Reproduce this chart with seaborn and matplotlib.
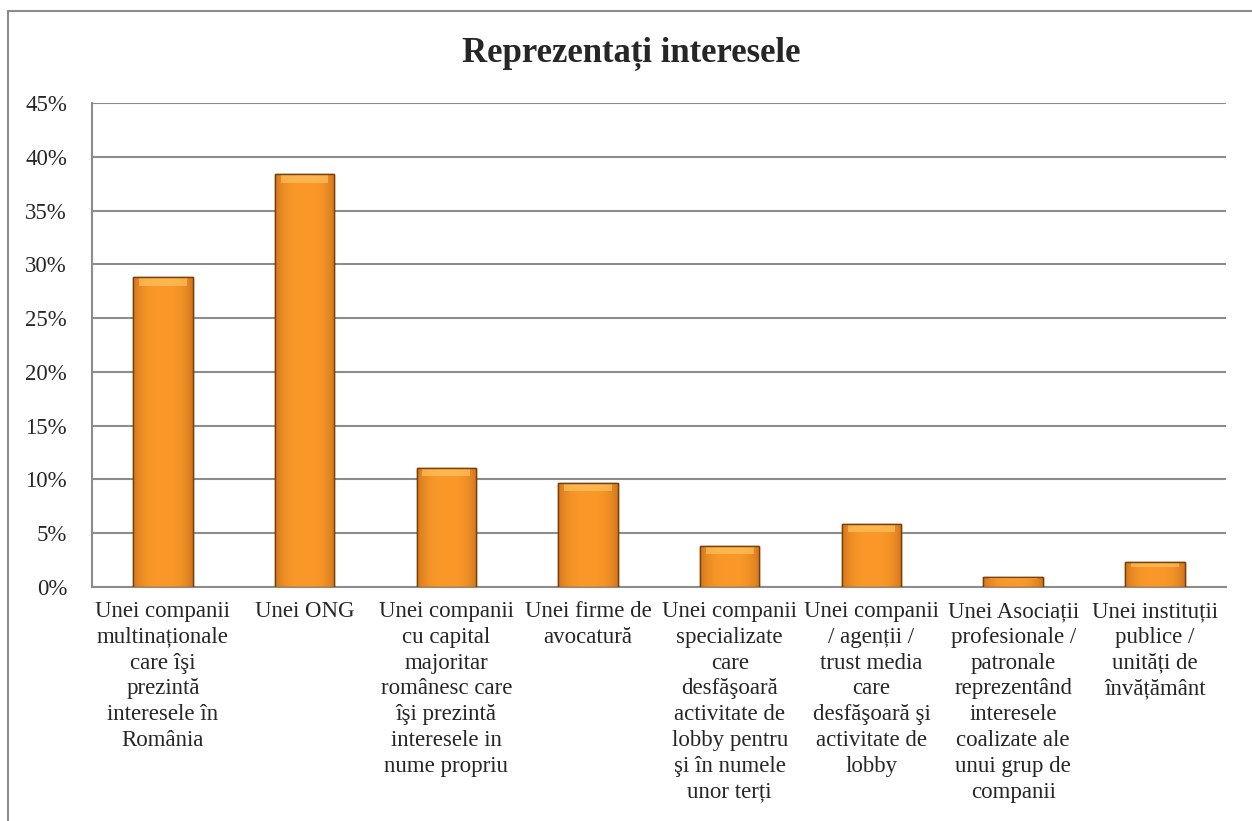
import numpy as np
import pandas as pd
import seaborn as sns
import matplotlib.pyplot as plt
from matplotlib.lines import Line2D

# date
categorii = [
    "Unei companii\nmultinaționale\ncare îşi\nprezintă\ninteresele în\nRomânia",
    "Unei ONG",
    "Unei companii\ncu capital\nmajoritar\nromânesc care\nîşi prezintă\ninteresele in\nnume propriu",
    "Unei firme de\navocatură",
    "Unei companii\nspecializate\ncare\ndesfăşoară\nactivitate de\nlobby pentru\nşi în numele\nunor terți",
    "Unei companii\n/ agenții /\ntrust media\ncare\ndesfăşoară şi\nactivitate de\nlobby",
    "Unei Asociații\nprofesionale /\npatronale\nreprezentând\ninteresele\ncoalizate ale\nunui grup de\ncompanii",
    "Unei instituții\npublice /\nunități de\nînvățământ",
]
procente = [28.8, 38.4, 11.1, 9.7, 3.8, 5.9, 0.9, 2.3]
titlu = "Reprezentați interesele"

df = pd.DataFrame({"cat": categorii, "val": procente})

sns.set_style("white")
plt.rcParams["font.family"] = ["Liberation Serif", "DejaVu Serif"]

fig = plt.figure(figsize=(12.52, 8.21), dpi=100)
ax = fig.add_axes([0.0735, 0.285, 0.9055, 0.5895])

sns.barplot(data=df, x="cat", y="val", color="#F7931E", width=0.42,
            edgecolor="#7A3E0A", linewidth=1.0, ax=ax, zorder=3)

# gradient pe bare (efect bevel simplu)
grad = np.linspace(0, 1, 64)
grad = 1 - 0.6 * (np.abs(grad - 0.5) * 2) ** 3
col = np.array([0.98, 0.60, 0.16])
dark = np.array([0.72, 0.38, 0.08])
rgba = np.ones((1, 64, 4))
for k in range(64):
    rgba[0, k, :3] = dark + (col - dark) * grad[k]
for p in ax.patches:
    x0, y0 = p.get_x(), p.get_y()
    w, h = p.get_width(), p.get_height()
    im = ax.imshow(rgba, extent=[x0, x0 + w, y0, y0 + h], aspect="auto", zorder=3.5)
    im.set_clip_path(p)
    # banda luminoasa sus
    bh = min(h * 0.2, 0.8)
    ax.fill_between([x0 + w * 0.1, x0 + w * 0.9], y0 + h - bh, y0 + h - 0.08,
                    color="#FFCB66", alpha=0.6, zorder=3.6, linewidth=0)
    ax.add_patch(plt.Rectangle((x0, y0), w, h, fill=False, edgecolor="#7A3E0A",
                               linewidth=1.0, zorder=3.7))

ax.set_xlim(-0.5, len(categorii) - 0.5)
ax.set_ylim(0, 45)
ax.set_yticks(np.arange(0, 46, 5))
ax.set_yticklabels([f"{v}%" for v in range(0, 46, 5)], fontsize=16.5)
ax.yaxis.grid(True, color="#8C8C8C", linewidth=1.5, zorder=0)
ax.set_axisbelow(True)
ax.tick_params(axis="y", length=0, pad=18)
ax.tick_params(axis="x", length=0, pad=10)
ax.set_xticks(range(len(categorii)))
ax.set_xticklabels(categorii, fontsize=16.5, linespacing=1.3, va="top")
ax.set_xlabel("")
ax.set_ylabel("")
for s in ["top", "right"]:
    ax.spines[s].set_visible(False)
for s in ["left", "bottom"]:
    ax.spines[s].set_color("#8C8C8C")
    ax.spines[s].set_linewidth(1.5)

fig.text(0.504, 0.935, titlu, ha="center", va="center", fontsize=25, fontweight="bold")

# chenarul exterior (doar stanga si sus se vad)
fig.add_artist(Line2D([0.0067, 0.0067], [0.0, 0.987], transform=fig.transFigure,
                      color="#8C8C8C", linewidth=1.5))
fig.add_artist(Line2D([0.0067, 1.0], [0.987, 0.987], transform=fig.transFigure,
                      color="#8C8C8C", linewidth=1.5))

fig.savefig("out.png", dpi=100)
